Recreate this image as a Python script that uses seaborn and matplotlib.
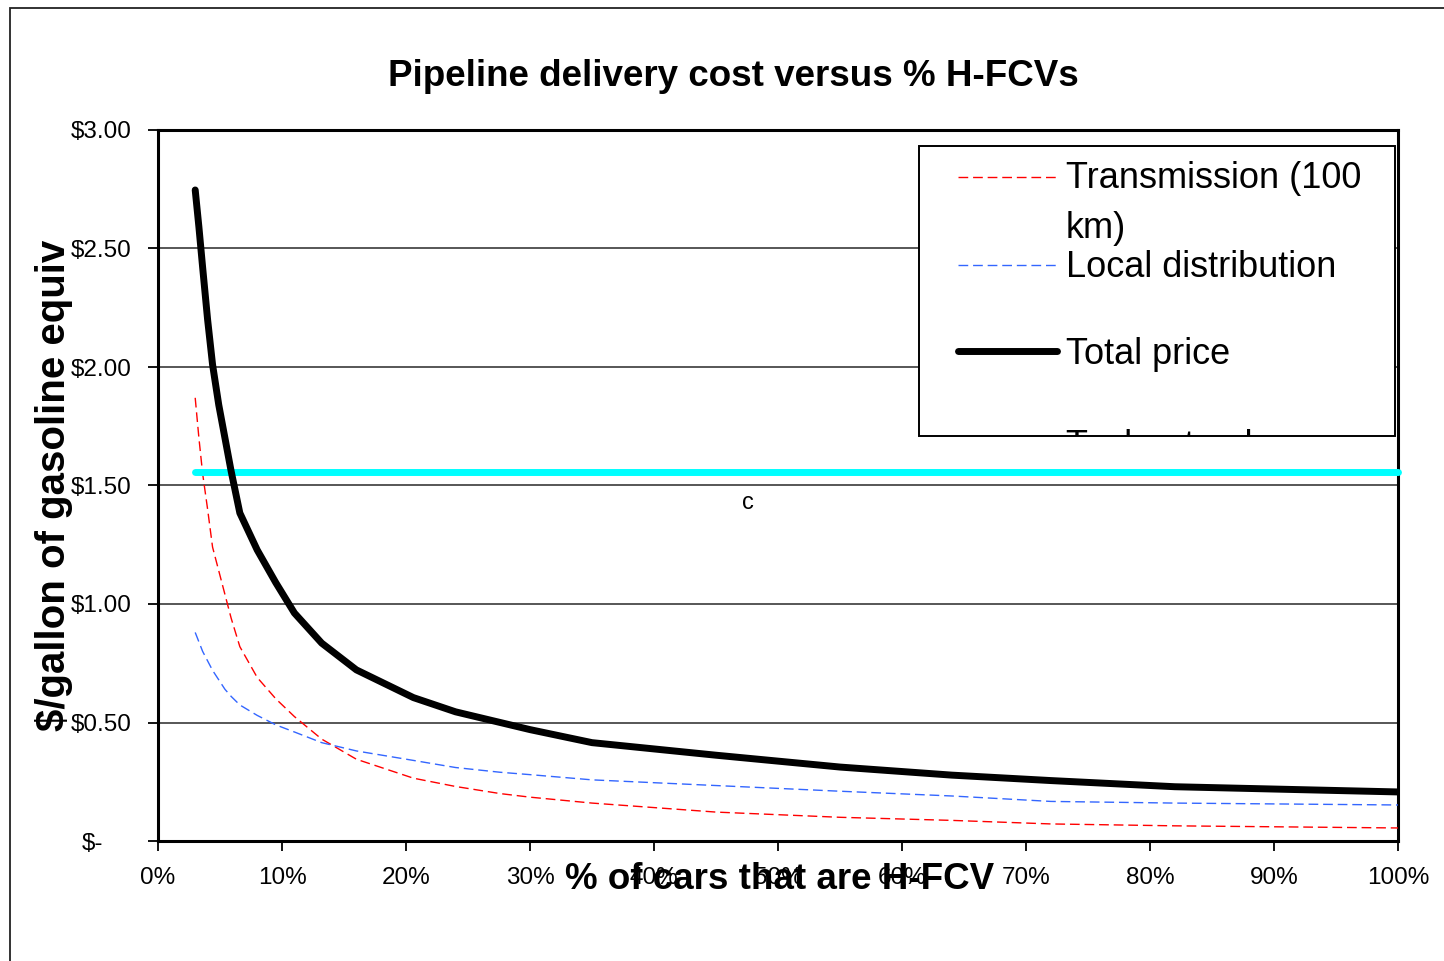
import pandas as pd
import seaborn as sns
import matplotlib.pyplot as plt
from matplotlib.patches import Rectangle
from matplotlib.lines import Line2D
from matplotlib.transforms import ScaledTranslation

# values (x in % of cars that are H-FCV)
pct_hfcv = [3.0, 3.3, 3.6, 4.0, 4.4, 4.9, 5.4, 5.9, 6.6, 8.0, 9.5, 11.0, 13.2,
            16.0, 20.6, 24.0, 27.6, 30.0, 35.0, 45.0, 55.0, 64.0, 72.0, 82.0, 100.0]
transmission = [1.87, 1.70, 1.55, 1.40, 1.24, 1.14, 1.04, 0.94, 0.82, 0.69, 0.60, 0.525, 0.43,
                0.345, 0.265, 0.23, 0.20, 0.185, 0.16, 0.122, 0.10, 0.087, 0.072, 0.064, 0.055]
local_dist = [0.88, 0.84, 0.80, 0.76, 0.72, 0.68, 0.64, 0.61, 0.574, 0.53, 0.49, 0.46, 0.415,
              0.38, 0.34, 0.31, 0.29, 0.28, 0.258, 0.234, 0.21, 0.19, 0.167, 0.16, 0.152]
total_price = [2.747, 2.59, 2.42, 2.20, 2.01, 1.84, 1.70, 1.56, 1.384, 1.228, 1.09, 0.962, 0.835,
               0.722, 0.605, 0.545, 0.50, 0.47, 0.415, 0.362, 0.312, 0.278, 0.255, 0.229, 0.207]
tanker_x = [3.0, 100.0]
tanker_y = [1.557, 1.557]

x_ticks = [0, 10, 20, 30, 40, 50, 60, 70, 80, 90, 100]
x_tick_labels = ['0%', '10%', '20%', '30%', '40%', '50%', '60%', '70%', '80%', '90%', '100%']
y_ticks = [0, 0.5, 1.0, 1.5, 2.0, 2.5, 3.0]
y_tick_labels = ['$-', '$0.50', '$1.00', '$1.50', '$2.00', '$2.50', '$3.00']

legend_labels = ['Transmission (100\nkm)', 'Local distribution', 'Total price', 'Tanker truck']

W, H = 1444, 961

sns.set_style('white')
plt.rcParams['font.family'] = ['Liberation Sans', 'DejaVu Sans']
plt.rcParams.update({'text.color': 'black', 'axes.labelcolor': 'black',
                     'xtick.color': 'black', 'ytick.color': 'black'})


def fxy(px, py):
    # pixel position -> figure fraction
    return px / W, 1 - py / H


fig = plt.figure(figsize=(W / 100, H / 100), dpi=100)
ax = fig.add_axes([158 / W, (H - 841) / H, 1240 / W, 711 / H])

# gridlines
for v in y_ticks[1:-1]:
    ax.axhline(v, color='#3a3a3a', lw=1.2, zorder=1)

sns.lineplot(x=pct_hfcv, y=transmission, ax=ax, color='#ff0000', lw=1.0,
             linestyle=(0, (7, 3.5)), zorder=3)
sns.lineplot(x=pct_hfcv, y=local_dist, ax=ax, color='#3366ff', lw=1.0,
             linestyle=(0, (7, 3.5)), zorder=3)
sns.lineplot(x=tanker_x, y=tanker_y, ax=ax, color='#00ffff', lw=5,
             solid_capstyle='round', zorder=3, clip_on=False)
sns.lineplot(x=pct_hfcv, y=total_price, ax=ax, color='black', lw=5,
             solid_capstyle='round', solid_joinstyle='round', zorder=4)

ax.text(47.6, 1.426, 'c', ha='center', va='center', fontsize=17)

ax.set_xlim(0, 100)
ax.set_ylim(0, 3)
ax.set_xticks(x_ticks)
ax.set_xticklabels(x_tick_labels)
ax.set_yticks(y_ticks)
ax.set_yticklabels(y_tick_labels)
ax.tick_params(axis='both', direction='out', length=7, width=1.3, pad=12,
               labelsize=17.5, color='black', labelcolor='black', bottom=True, left=True)
for sp in ax.spines.values():
    sp.set_color('black')
    sp.set_linewidth(2.2)

# shift "$-" left like the accounting format does
lab0 = ax.get_yticklabels()[0]
lab0.set_transform(lab0.get_transform() + ScaledTranslation(-0.28, 0, fig.dpi_scale_trans))

ax.set_xlabel('% of cars that are H-FCV', fontsize=26.5, fontweight='bold')
ax.xaxis.set_label_coords(0.5016, -0.03)
ax.set_ylabel('$/gallon of gasoline equiv', fontsize=29, fontweight='bold')
ax.yaxis.set_label_coords(-0.0685, 0.5)

fig.text(*fxy(733, 76), 'Pipeline delivery cost versus % H-FCVs', ha='center', va='center',
         fontsize=26.5, fontweight='bold')

# outer chart border
fig.add_artist(Rectangle(fxy(10, 1000), 1.2, 992 / H, transform=fig.transFigure,
                         fill=False, ec='#222222', lw=1.3, clip_on=False))

# legend box (clipped at the bottom like the original)
x0, y0 = fxy(919, 436)
x1, y1 = fxy(1395, 146)
box = Rectangle((x0, y0), x1 - x0, y1 - y0, transform=fig.transFigure,
                fc='white', ec='black', lw=1.4, zorder=5)
fig.add_artist(box)
lx0, _ = fxy(958, 0)
lx1, _ = fxy(1057, 0)
styles = [dict(color='#ff0000', lw=1.0, linestyle=(0, (7, 3.5))),
          dict(color='#3366ff', lw=1.0, linestyle=(0, (7, 3.5))),
          dict(color='black', lw=5, solid_capstyle='round')]
for py, st in zip([177, 265, 351], styles):
    _, ly = fxy(0, py)
    fig.add_artist(Line2D([lx0, lx1], [ly, ly], transform=fig.transFigure, zorder=6, **st))

tx, _ = fxy(1066, 0)
for lbl, base in zip(['Transmission (100', 'km)', legend_labels[1], legend_labels[2], legend_labels[3]],
                     [188, 238, 277, 364, 456]):
    _, ty = fxy(0, base)
    t = fig.text(tx, ty, lbl, ha='left', va='baseline', fontsize=26, zorder=7)
    t.set_clip_path(box)

fig.savefig('out.png', dpi=100)
